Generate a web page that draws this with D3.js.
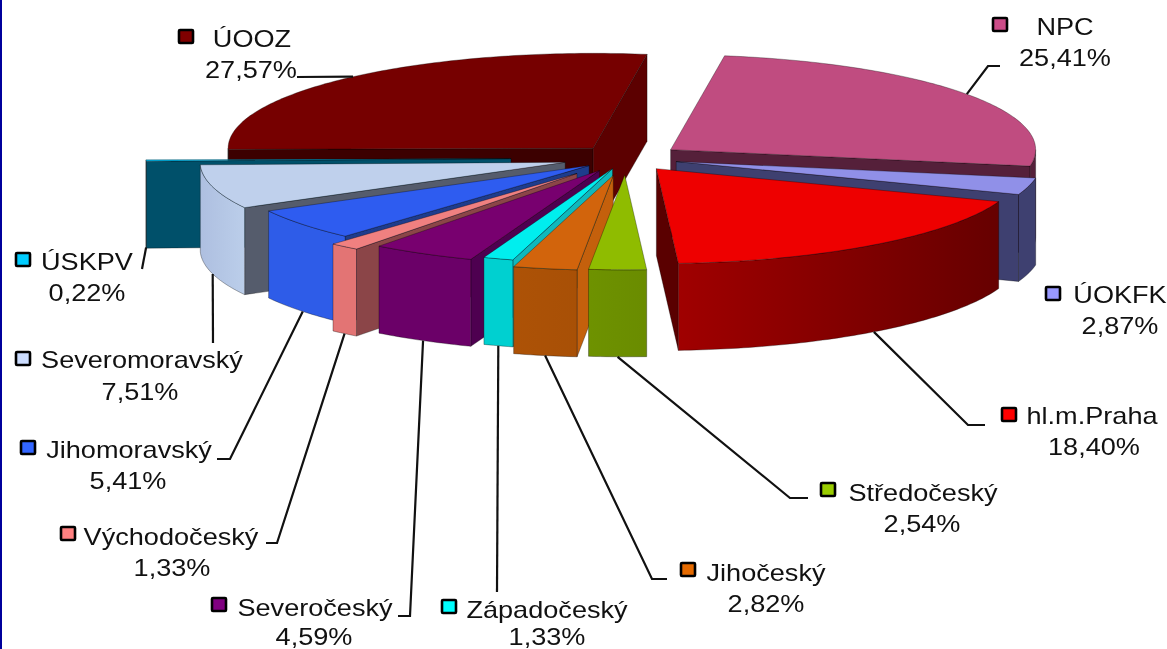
<!DOCTYPE html>
<html>
<head>
<meta charset="utf-8">
<script src="https://cdn.jsdelivr.net/npm/d3@7/dist/d3.min.js"></script>
<style>
html, body { margin: 0; padding: 0; background: #fff; overflow: hidden; }
svg { display: block; filter: blur(0.45px); }
text { font-family: "Liberation Sans", Arial, sans-serif; font-size: 24px; fill: #111; }
</style>
</head>
<body>
<div id="chart"></div>
<script>
// data, clockwise in pie order (legend text is placed around the pie)
var names = ["NPC", "ÚOKFK", "hl.m.Praha", "Středočeský", "Jihočeský", "Západočeský", "Severočeský",
             "Východočeský", "Jihomoravský", "Severomoravský", "ÚSKPV", "ÚOOZ"];
var values = [25.41, 2.87, 18.40, 2.54, 2.82, 1.33, 4.59, 1.33, 5.41, 7.51, 0.22, 27.57];
var explosion = [55, 52, 51, 65, 68, 43, 55, 77, 47, 63, 115, 50];

// colours for legend box, top face, outer face (left, right) and cut faces
var legendColor = ["#CC4C88", "#9999FF", "#FF0000", "#99CC00", "#E56A00", "#00FFFF", "#800080",
                   "#FF8080", "#3366FF", "#CCDDFF", "#00CCFF", "#800000"];
var topColor = ["#C04C80", "#9090E8", "#EE0000", "#8FBC00", "#D2640C", "#00EEEE", "#78006F",
                "#F08080", "#2E5CF0", "#BFD0EC", "#00C8FF", "#760000"];
var outerLeft = ["#55203A", "#3E4070", "#A00000", "#6E9200", "#AD5206", "#00D0D0", "#6B0068",
                 "#E37474", "#2E5CE8", "#AEBFE0", "#00506A", "#400000"];
var outerRight = ["#55203A", "#3E4070", "#660000", "#6A8C00", "#A85006", "#00D0D0", "#6B0068",
                  "#E37474", "#2E5CE8", "#BBCEEA", "#00506A", "#400000"];
var cutStart = ["#55203A", "#3E4070", "#5A0000", "#6A8C00", "#C4600C", "#10B8BC", "#4E0050",
                "#8B4548", "#1E3C8C", "#555C6C", "#00506A", "#3C0000"];
var cutEnd = ["#55203A", "#3E4070", "#5A0000", "#6A8C00", "#C4600C", "#10B8BC", "#4E0050",
              "#8B4548", "#1E3C8C", "#555C6C", "#00506A", "#5C0000"];

// label layout: name centre x, name baseline, value centre x, value baseline, legend box x, y
var labelPos = [
  [1065, 35, 1065, 66, 993, 18], [1120, 303, 1120, 334, 1046, 287], [1092, 424, 1094, 455, 1002, 408],
  [923, 501, 922, 532, 821, 483], [766, 581, 766, 612, 681, 563], [547, 618, 547, 645, 442, 600],
  [315, 616, 314, 645, 212, 598], [171, 545, 172, 576, 61, 527], [129, 458, 128, 489, 21, 441],
  [142, 368, 140, 400, 16, 352], [87, 270, 87, 301, 16, 253], [252, 47, 251, 78, 179, 30]
];
// leader line bends, from the slice out to the label (null = no leader)
var leaderBend = [
  [[988, 66], [1000, 66]], null, [[968, 425], [985, 425]],
  [[790, 498], [808, 498]], [[652, 579], [667, 579]], [[497, 592]],
  [[410, 616], [398, 616]], [[277, 543], [266, 543]], [[230, 459], [217, 459]],
  [[213, 343]], [[142, 269]], [[297, 77]]
];

var width = 1167, height = 649;
var cx = 626, cy = 158;     // pie centre before the slices are pulled out
var radius = 365, squash = 0.26, depth = 87;

var svg = d3.select("#chart").append("svg")
    .attr("width", width)
    .attr("height", height);

// dark blue edge of the slide
svg.append("rect").attr("x", 0).attr("y", 0).attr("width", 2).attr("height", height).attr("fill", "#00009C");

var pie = d3.pie().sort(null)
    .startAngle(8.5 * Math.PI / 180)
    .endAngle(368.5 * Math.PI / 180);

var slices = pie(values).map(function(d, i) {
  var mid = (d.startAngle + d.endAngle) / 2;
  return {
    i: i, a: d.startAngle, b: d.endAngle, mid: mid,
    ox: cx + explosion[i] * Math.sin(mid),
    oy: cy - explosion[i] * squash * Math.cos(mid)
  };
});

// ground plane to screen
function pt(s, angle, r, down) {
  return [s.ox + r * Math.sin(angle), s.oy - r * squash * Math.cos(angle) + (down ? depth : 0)];
}
function arcPts(s, a, b, down) {
  var n = Math.max(2, Math.ceil((b - a) * 60));
  return d3.range(n + 1).map(function(k) { return pt(s, a + (b - a) * k / n, radius, down); });
}
var line = d3.line();

var defs = svg.append("defs");
slices.forEach(function(s) {
  var g = defs.append("linearGradient").attr("id", "outer" + s.i);
  g.append("stop").attr("offset", "0%").attr("stop-color", outerLeft[s.i]);
  g.append("stop").attr("offset", "100%").attr("stop-color", outerRight[s.i]);
});

// back slices first
var order = slices.slice().sort(function(p, q) { return Math.cos(q.mid) - Math.cos(p.mid); });

var edge = { stroke: "#000", "stroke-width": 0.7, "stroke-opacity": 0.45, "stroke-linejoin": "round" };
function face(g, pts, fill) {
  var p = g.append("path").attr("d", line(pts) + "Z").attr("fill", fill);
  Object.keys(edge).forEach(function(k) { p.attr(k, edge[k]); });
}

var pieG = svg.append("g");
order.forEach(function(s) {
  var g = pieG.append("g");
  var apex = pt(s, 0, 0, false), apexDown = pt(s, 0, 0, true);

  // cut faces that look towards the viewer
  if (Math.sin(s.a) < 0)
    face(g, [apex, pt(s, s.a, radius), pt(s, s.a, radius, true), apexDown], cutStart[s.i]);
  if (Math.sin(s.b) > 0)
    face(g, [apex, pt(s, s.b, radius), pt(s, s.b, radius, true), apexDown], cutEnd[s.i]);

  // outer wall, front half of the ellipse only
  var from = Math.max(s.a, Math.PI / 2), to = Math.min(s.b, 3 * Math.PI / 2);
  if (to > from)
    face(g, arcPts(s, from, to, false).concat(arcPts(s, from, to, true).reverse()), "url(#outer" + s.i + ")");

  // top
  face(g, [apex].concat(arcPts(s, s.a, s.b, false)), topColor[s.i]);
});

// leaders start on the outer rim at the middle of the slice
var leaders = svg.append("g");
slices.forEach(function(s) {
  if (!leaderBend[s.i]) return;
  var front = -Math.cos(s.mid) > -0.1;
  leaders.append("path")
      .attr("d", line([pt(s, s.mid, radius, front)].concat(leaderBend[s.i])))
      .attr("fill", "none")
      .attr("stroke", "#111")
      .attr("stroke-width", 2.2);
});

// labels, stretched sideways like the original picture
var labels = svg.append("g");
slices.forEach(function(s) {
  var p = labelPos[s.i];
  labels.append("rect")
      .attr("x", p[4]).attr("y", p[5])
      .attr("width", 14).attr("height", 13).attr("rx", 1)
      .attr("fill", legendColor[s.i])
      .attr("stroke", "#000").attr("stroke-width", 2.6);
  labels.append("text")
      .attr("transform", "translate(" + p[0] + "," + p[1] + ") scale(1.13,1)")
      .attr("text-anchor", "middle")
      .text(names[s.i]);
  labels.append("text")
      .attr("transform", "translate(" + p[2] + "," + p[3] + ") scale(1.13,1)")
      .attr("text-anchor", "middle")
      .text(values[s.i].toFixed(2).replace(".", ",") + "%");
});
</script>
</body>
</html>
